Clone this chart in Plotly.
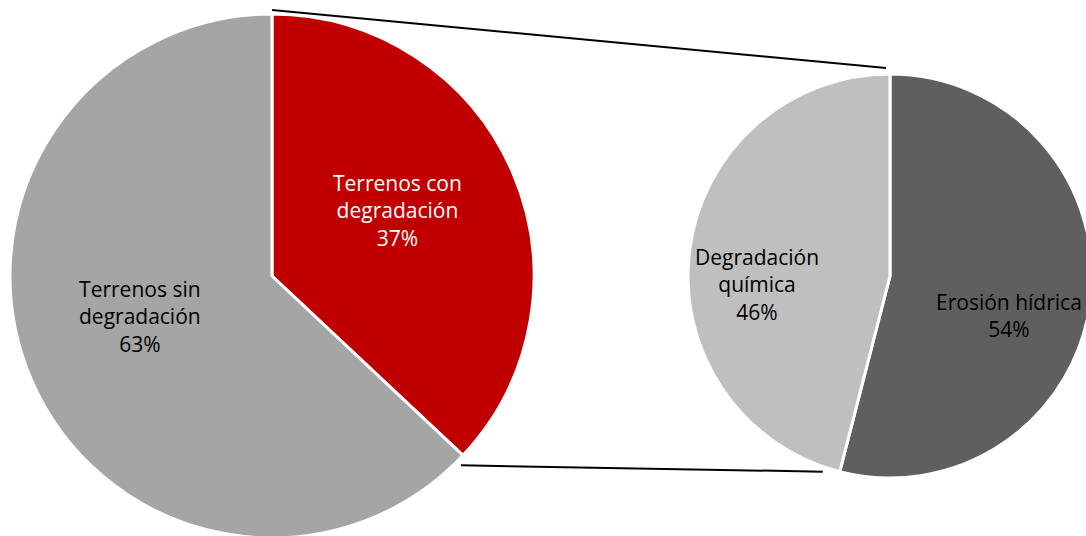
import math
import plotly.graph_objects as go

# Data
main_labels = ["Terrenos con<br>degradación", "Terrenos sin<br>degradación"]
main_values = [37, 63]
main_colors = ["#C00000", "#A5A5A5"]
main_text_colors = ["white", "black"]

sub_labels = ["Erosión hídrica", "Degradación<br>química"]
sub_values = [54, 46]
sub_colors = ["#5F5F5F", "#BFBFBF"]
sub_text_colors = ["black", "black"]

# Layout geometry (pixels)
W, H = 1100, 560
c1x, c1y, r1 = 272, 276, 262
c2x, c2y, r2 = 890, 276, 202
# label offsets from pie centres (pixels), layout only
main_label_off = [(125, -66), (-132, 40)]
sub_label_off = [(119, 39), (-133, 8)]
FONT = "Open Sans"
FSIZE = 21


def dom(cx, cy, r):
    return dict(x=[(cx - r) / W, (cx + r) / W],
                y=[1 - (cy + r) / H, 1 - (cy - r) / H])


def px(pt):
    return pt[0] / W, 1 - pt[1] / H


fig = go.Figure()
fig.add_trace(go.Pie(
    labels=main_labels, values=main_values, sort=False, direction="clockwise",
    rotation=0, domain=dom(c1x, c1y, r1),
    marker=dict(colors=main_colors, line=dict(color="white", width=3)),
    textinfo="none", hoverinfo="label+percent", showlegend=False,
))
fig.add_trace(go.Pie(
    labels=sub_labels, values=sub_values, sort=False, direction="clockwise",
    rotation=0, domain=dom(c2x, c2y, r2),
    marker=dict(colors=sub_colors, line=dict(color="white", width=3)),
    textinfo="none", hoverinfo="label+percent", showlegend=False,
))

annotations = []
for labels, values, colors, offs, cx, cy in [
    (main_labels, main_values, main_text_colors, main_label_off, c1x, c1y),
    (sub_labels, sub_values, sub_text_colors, sub_label_off, c2x, c2y),
]:
    total = sum(values)
    for lab, v, col, (dx, dy) in zip(labels, values, colors, offs):
        x, y = px((cx + dx, cy + dy))
        annotations.append(dict(
            x=x, y=y, xref="paper", yref="paper", showarrow=False,
            text=f"{lab}<br>{round(100 * v / total)}%",
            font=dict(family=FONT, size=FSIZE, color=col),
            xanchor="center", yanchor="middle", align="center",
        ))

# connector lines derived from pie geometry
ang_end = main_values[0] / sum(main_values) * 2 * math.pi
ang_sub = sub_values[0] / sum(sub_values) * 2 * math.pi
p1 = (c1x, c1y - r1 - 4)
q1 = (c2x - 4, c2y - r2 - 6)
p2 = (c1x + r1 * math.sin(ang_end) - 2, c1y - r1 * math.cos(ang_end) + 10)
q2 = (c2x + r2 * math.sin(ang_sub) - 17, c2y - r2 * math.cos(ang_sub))

shapes = []
for a, b in [(p1, q1), (p2, q2)]:
    x0, y0 = px(a)
    x1, y1 = px(b)
    shapes.append(dict(type="line", xref="paper", yref="paper", x0=x0, y0=y0,
                       x1=x1, y1=y1, line=dict(color="black", width=2)))

fig.update_layout(
    width=W, height=H, margin=dict(l=0, r=0, t=0, b=0),
    paper_bgcolor="white", plot_bgcolor="white", shapes=shapes,
    annotations=annotations,
)

fig.write_html("out.html", config={"displayModeBar": False},
               post_script="document.body.style.margin='0';document.body.style.overflow='hidden';")
